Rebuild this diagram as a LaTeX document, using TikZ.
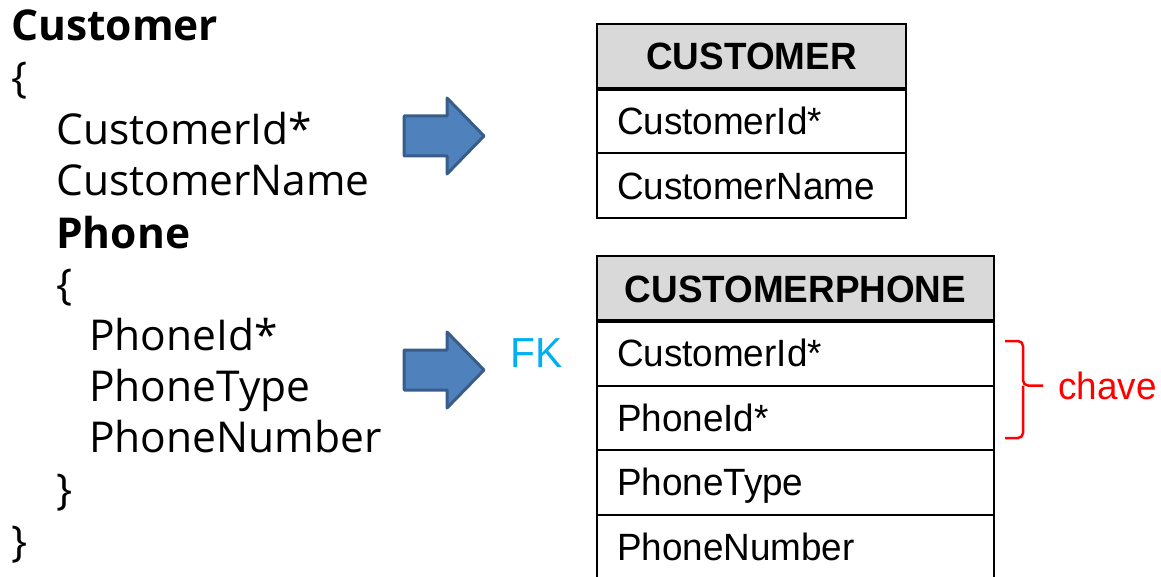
\documentclass[tikz,border=0pt]{standalone}
\usepackage{fontspec}
\setmainfont{Liberation Sans}[FakeStretch=0.97]
\newfontfamily\codefont{Open Sans}
\usepackage{tikz}
\usetikzlibrary{positioning,          % placement relatif
           calc}                      % calculs de coordonnées entre $ $
\definecolor{bleu}{RGB}{79,129,189}
\definecolor{bleufonce}{RGB}{56,93,138}
\definecolor{cyanfk}{RGB}{0,176,240}
\definecolor{gris}{RGB}{217,217,217}
\definecolor{rouge}{RGB}{255,0,0}

\tikzset{
  entete/.style={draw, fill=gris, line width=2pt, outer sep=0, inner sep=0,
    minimum height=65, text height=30, text depth=3,
    font=\bfseries\fontsize{38}{40}\selectfont},
  champ/.style={draw, line width=2pt, outer sep=0, inner xsep=20, inner ysep=0,
    minimum height=64.5, text width=#1, align=left, text height=30, text depth=3,
    font=\fontsize{38}{40}\selectfont},
  code/.style={anchor=base west, inner sep=0, font=\codefont\fontsize{42.5}{50}\selectfont},
  gras/.style={code, font=\codefont\bfseries\fontsize{42.5}{50}\selectfont},
  fleche/.style={draw=bleufonce, fill=bleu, line width=3pt, line join=round},
  accolade/.style={rouge, line width=2.5pt, rounded corners=5pt}
}

\begin{document}
\begin{tikzpicture}[x=1pt,y=-1pt]
\useasboundingbox (0,0) rectangle (1161,577);
% structure imbriquée
\node[gras] (tCustomer) at (11,41) {Customer};
\node[code] (tOuvre)    at (11,93) {\{};
\node[code] (tCustId)   at (56,145) {CustomerId*};
\node[code] (tCustName) at (56,196) {CustomerName};
\node[gras] (tPhone)    at (56,248) {Phone};
\node[code] (tOuvreB)   at (56,299) {\{};
\node[code] (tPhoneId)  at (89,350) {PhoneId*};
\node[code] (tPhoneTy)  at (89,401) {PhoneType};
\node[code] (tPhoneNb)  at (89,452) {PhoneNumber};
\node[code] (tFermeB)   at (56,504) {\}};
\node[code] (tFerme)    at (11,556) {\}};
% flèches
\draw[fleche] (404,116) -- (447,116) -- (447,98) -- (484,136) -- (447,174)
     -- (447,156) -- (404,156) -- cycle;
\draw[fleche] (404,350) -- (447,350) -- (447,332) -- (484,370) -- (447,408)
     -- (447,390) -- (404,390) -- cycle;
% table CUSTOMER
\node[entete, minimum width=309, anchor=north west] (hCust) at (597,24) {CUSTOMER};
\node[champ=269pt, below=0pt of hCust] (cCustId) {CustomerId*};
\node[champ=269pt, below=0pt of cCustId] (cCustName) {CustomerName};
\draw[line width=4pt] (hCust.south west) -- (hCust.south east);
% table CUSTOMERPHONE
\node[entete, minimum width=397, anchor=north west] (hPhone) at (597,256) {CUSTOMERPHONE};
\node[champ=357pt, below=0pt of hPhone] (pCustId) {CustomerId*};
\node[champ=357pt, below=0pt of pCustId] (pPhoneId) {PhoneId*};
\node[champ=357pt, below=0pt of pPhoneId] (pPhoneTy) {PhoneType};
\node[champ=357pt, below=0pt of pPhoneTy] (pPhoneNb) {PhoneNumber};
\draw[line width=4pt] (hPhone.south west) -- (hPhone.south east);
\node[text=cyanfk, font=\fontsize{42}{44}\selectfont, left=34pt of pCustId.west, inner sep=0] (fk) {FK};
% accolade de la clé
\coordinate (pointe) at ($(pCustId.south east)+(49,0)$);
\draw[accolade] ($(pCustId.north east)+(11,20)$) -- ($(pCustId.north east)+(29,20)$)
     -- ($(pCustId.south east)+(29,0)$) -- (pointe);
\draw[accolade] ($(pPhoneId.south east)+(11,-12)$) -- ($(pPhoneId.south east)+(29,-12)$)
     -- ($(pCustId.south east)+(29,0)$);
\node[text=rouge, font=\fontsize{38}{40}\selectfont, right=15pt of pointe, inner sep=0] (chave) {chave};
\end{tikzpicture}
\end{document}
